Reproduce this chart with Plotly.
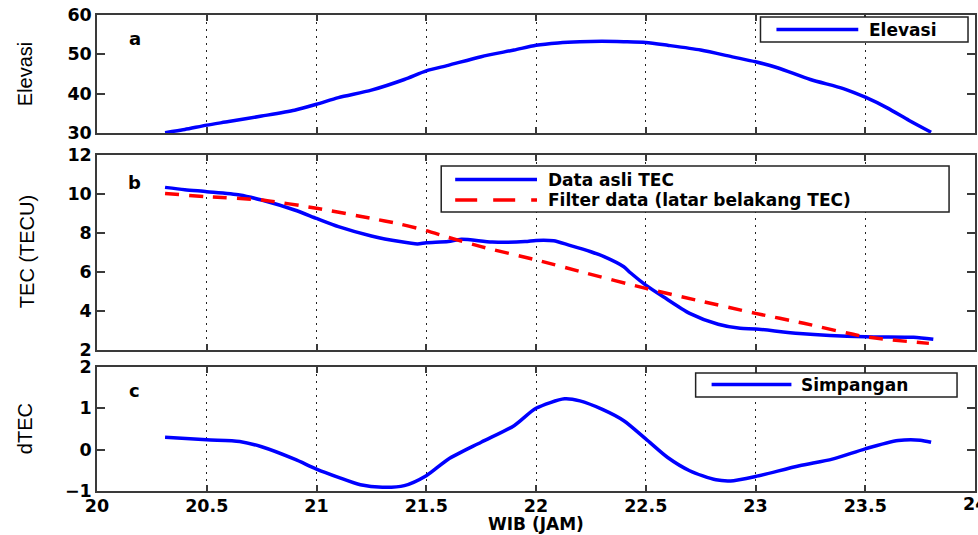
import plotly.graph_objects as go

# ---------------- data ----------------
jam_elevasi = [20.31, 20.4, 20.5, 20.6, 20.75, 20.9, 21.0, 21.1, 21.25, 21.4, 21.5, 21.6,
               21.75, 21.9, 22.0, 22.1, 22.2, 22.3, 22.4, 22.5, 22.6, 22.75, 22.9, 23.0,
               23.1, 23.25, 23.4, 23.5, 23.6, 23.7, 23.8]
elevasi = [30.1, 30.9, 32.0, 32.9, 34.3, 35.8, 37.3, 39.0, 40.9, 43.6, 45.8, 47.2,
           49.4, 51.1, 52.3, 52.9, 53.2, 53.3, 53.2, 53.0, 52.3, 51.1, 49.3, 48.1,
           46.6, 43.6, 41.3, 39.1, 36.4, 33.2, 30.2]

jam_tec = [20.31, 20.4, 20.5, 20.65, 20.75, 20.9, 21.0, 21.1, 21.25, 21.38, 21.46, 21.5,
           21.6, 21.66, 21.8, 21.95, 22.0, 22.08, 22.15, 22.25, 22.31, 22.4, 22.43, 22.5,
           22.58, 22.7, 22.83, 22.93, 23.0, 23.2, 23.5, 23.72, 23.81]
tec_asli = [10.34, 10.22, 10.12, 9.95, 9.69, 9.18, 8.75, 8.33, 7.85, 7.56, 7.44, 7.5,
            7.56, 7.68, 7.54, 7.56, 7.62, 7.6, 7.38, 7.04, 6.79, 6.27, 5.96, 5.33,
            4.73, 3.88, 3.32, 3.11, 3.08, 2.85, 2.68, 2.65, 2.55]

jam_filter = [20.31, 20.5, 20.75, 21.0, 21.25, 21.38, 21.5, 21.6, 21.75, 22.0, 22.22,
              22.5, 22.73, 23.0, 23.22, 23.5, 23.79]
tec_filter = [10.03, 9.86, 9.69, 9.27, 8.75, 8.46, 8.12, 7.78, 7.3, 6.62, 5.97,
              5.16, 4.56, 3.88, 3.37, 2.68, 2.34]

jam_dtec = [20.31, 20.5, 20.65, 20.75, 20.9, 21.0, 21.1, 21.2, 21.3, 21.4, 21.5, 21.6,
            21.75, 21.9, 22.0, 22.13, 22.2, 22.3, 22.4, 22.5, 22.6, 22.7, 22.82, 22.9,
            23.0, 23.2, 23.35, 23.5, 23.65, 23.75, 23.8]
dtec = [0.30, 0.24, 0.20, 0.07, -0.23, -0.47, -0.67, -0.85, -0.91, -0.87, -0.63, -0.23,
        0.18, 0.58, 1.0, 1.23, 1.18, 0.98, 0.70, 0.26, -0.19, -0.51, -0.73, -0.75,
        -0.65, -0.39, -0.23, 0.02, 0.22, 0.23, 0.18]

x_ticks = [20, 20.5, 21, 21.5, 22, 22.5, 23, 23.5, 24]
x_ticktext = ["20", "20.5", "21", "21.5", "22", "22.5", "23", "23.5", "24"]

# ---------------- layout helpers ----------------
W, H = 978, 535
L, R, T, B = 97, 1, 15, 44


def fx(px):
    return (px - L) / (W - L - R)


def fy(py):
    return (H - B - py) / (H - T - B)


BLUE = "#0000FF"
RED = "#FF0000"
AXC = "#3a3a3a"
TICKFONT = dict(family="DejaVu Sans", size=17.5, color="black", weight="bold")
SMOOTH = 0.7

fig = go.Figure()
fig.add_trace(go.Scatter(x=jam_elevasi, y=elevasi, mode="lines", name="Elevasi",
                         line=dict(color=BLUE, width=3.5, shape="spline", smoothing=SMOOTH),
                         xaxis="x", yaxis="y", showlegend=False))
fig.add_trace(go.Scatter(x=jam_tec, y=tec_asli, mode="lines", name="Data asli TEC",
                         line=dict(color=BLUE, width=3.5, shape="spline", smoothing=SMOOTH),
                         xaxis="x2", yaxis="y2", showlegend=False))
fig.add_trace(go.Scatter(x=jam_filter, y=tec_filter, mode="lines",
                         name="Filter data (latar belakang TEC)",
                         line=dict(color=RED, width=3.5, dash="14px,10px", shape="spline",
                                   smoothing=SMOOTH),
                         xaxis="x2", yaxis="y2", showlegend=False))
fig.add_trace(go.Scatter(x=jam_dtec, y=dtec, mode="lines", name="Simpangan",
                         line=dict(color=BLUE, width=3.5, shape="spline", smoothing=SMOOTH),
                         xaxis="x3", yaxis="y3", showlegend=False))


def xaxis(anchor, labels):
    return dict(domain=[0, 1], anchor=anchor, range=[20, 24], tickvals=x_ticks,
                ticktext=x_ticktext, showticklabels=labels, ticks="inside", ticklen=6,
                tickcolor=AXC, tickwidth=1.5, showline=True, linecolor=AXC, linewidth=1.5,
                mirror="ticks", showgrid=True, gridcolor="#222", gridwidth=1.4,
                griddash="2px,5px", zeroline=False, tickfont=TICKFONT,
                ticklabelstandoff=-2)


def yaxis(anchor, dom, rng, dt):
    return dict(domain=dom, anchor=anchor, range=rng, dtick=dt, tick0=rng[0],
                ticks="inside", ticklen=8, tickcolor=AXC, tickwidth=1.5, showline=True,
                linecolor=AXC, linewidth=1.5, mirror="ticks", showgrid=False,
                zeroline=False, tickfont=TICKFONT)


shapes = []
annotations = []


def legend_box(x0, x1, y0, y1):
    shapes.append(dict(type="rect", xref="paper", yref="paper", x0=fx(x0), x1=fx(x1),
                       y0=fy(y1), y1=fy(y0), line=dict(color="#222", width=1.5),
                       fillcolor="white", layer="above"))


def legend_item(lx0, lx1, ly, color, dash, text, tx):
    shapes.append(dict(type="line", xref="paper", yref="paper", x0=fx(lx0), x1=fx(lx1),
                       y0=fy(ly), y1=fy(ly), line=dict(color=color, width=3.5, dash=dash),
                       layer="above"))
    annotations.append(dict(text=text, xref="paper", yref="paper", x=fx(tx), y=fy(ly),
                            xanchor="left", yanchor="middle", showarrow=False,
                            font=dict(family="DejaVu Sans", size=17, color="black",
                                      weight="bold")))


legend_box(762, 970, 17, 42)
legend_item(778, 860, 29.5, BLUE, "solid", "Elevasi", 869)

legend_box(442, 951, 166, 212)
legend_item(456, 538, 179.5, BLUE, "solid", "Data asli TEC", 547)
legend_item(456, 538, 200, RED, "22px,16px", "Filter data (latar belakang TEC)", 547)

legend_box(697, 959, 373, 397)
legend_item(713, 793, 384.5, BLUE, "solid", "Simpangan", 801)

for lab, py in [("a", 38), ("b", 182), ("c", 390)]:
    annotations.append(dict(text=lab, xref="paper", yref="paper", x=fx(135), y=fy(py),
                            xanchor="center", yanchor="middle", showarrow=False,
                            font=dict(family="DejaVu Sans", size=18, color="black",
                                      weight="bold")))

for lab, py, px in [("Elevasi", 74, 25), ("TEC (TECU)", 252, 27), ("dTEC", 429, 25)]:
    annotations.append(dict(text=lab, xref="paper", yref="paper", x=fx(px), y=fy(py),
                            xanchor="center", yanchor="middle", showarrow=False,
                            textangle=-90,
                            font=dict(family="Liberation Sans", size=20, color="black")))

annotations.append(dict(text="WIB (JAM)", xref="paper", yref="paper", x=fx(537), y=fy(524),
                        xanchor="center", yanchor="middle", showarrow=False,
                        font=dict(family="DejaVu Sans", size=17, color="black",
                                  weight="bold")))

# last tick label sits on the window edge (only partly visible, as in the reference)
annotations.append(dict(text=x_ticktext[-1], xref="x3", yref="paper", x=x_ticks[-1],
                        y=fy(504), xanchor="center", yanchor="middle", showarrow=False,
                        font=TICKFONT))

fig.update_layout(
    width=W, height=H,
    margin=dict(l=L, r=R, t=T, b=B, pad=0),
    paper_bgcolor="white", plot_bgcolor="white",
    showlegend=False,
    xaxis=xaxis("y", False),
    xaxis2=xaxis("y2", False),
    xaxis3=xaxis("y3", True),
    yaxis=yaxis("x", [fy(133), fy(15)], [30, 60], 10),
    yaxis2=yaxis("x2", [fy(350), fy(155)], [2, 12], 2),
    yaxis3=yaxis("x3", [fy(491), fy(367)], [-1, 2], 1),
    shapes=shapes,
    annotations=annotations,
)

fig.write_html("out.html")
